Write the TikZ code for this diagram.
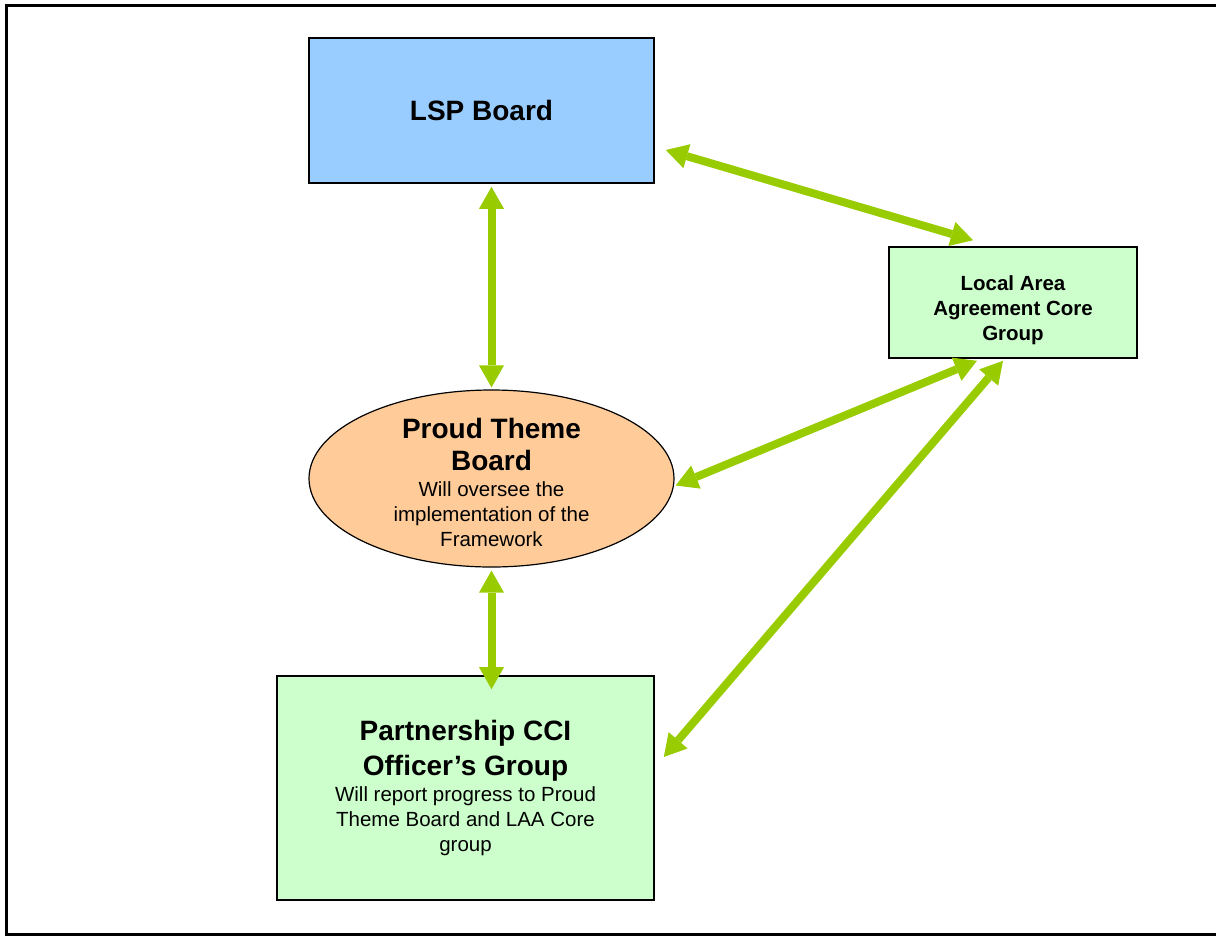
\documentclass[tikz,border=0pt]{standalone}
\usepackage{fontspec}
\setmainfont{Liberation Sans}
\usetikzlibrary{arrows.meta,shapes.geometric}
\definecolor{boardblue}{HTML}{99CCFF}
\definecolor{groupgreen}{HTML}{CCFFCC}
\definecolor{themepeach}{HTML}{FFCC99}
\definecolor{linkgreen}{HTML}{99CC00}
\newcommand{\headtxt}[1]{{\fontsize{28}{32}\selectfont\bfseries #1}}
\newcommand{\lowerby}[1]{\rule{0pt}{#1}}
\tikzset{
  box/.style={draw=black,line width=1.6pt,rectangle,inner sep=0pt,align=center,
    font=\fontsize{20.5}{25}\selectfont},
  link/.style={color=linkgreen,line width=8pt,
    {Triangle[width=25pt,length=22pt,line width=0pt]}-{Triangle[width=25pt,length=22pt,line width=0pt]}}
}
\begin{document}
\begin{tikzpicture}[x=1pt,y=-1pt]
  \useasboundingbox (0,0) rectangle (1216,938);
  % frame
  \draw[line width=3pt] (1216,5) -- (6,5) -- (6,934) -- (1216,934);
  % nodes
  \node[box,fill=boardblue,minimum width=345pt,minimum height=145pt] (lsp) at (481.5,110.5) {\headtxt{LSP Board}};
  \node[box,fill=groupgreen,minimum width=248pt,minimum height=111pt] (laa) at (1013,302.5)
    {\lowerby{30pt}\bfseries Local Area\\\bfseries Agreement Core\\\bfseries Group};
  \node[box,ellipse,fill=themepeach,line width=1.2pt,inner ysep=-30pt,minimum width=365pt,minimum height=177pt] (ptb) at (491.5,478.5)
    {\headtxt{\lowerby{29pt}Proud Theme}\\[7pt]\headtxt{Board}\\[1pt]Will oversee the\\implementation of the\\Framework};
  \node[box,fill=groupgreen,minimum width=377pt,minimum height=224pt] (pcg) at (465.5,788)
    {\headtxt{Partnership CCI}\\[7pt]\headtxt{Officer’s Group}\\[1pt]Will report progress to Proud\\Theme Board and LAA Core\\group};
  % links
  \path[link]
    (lsp.south -| ptb.north) edge[shorten <=3pt,shorten >=2pt] (ptb.north)
    ([xshift=11pt,yshift=-39.5pt]lsp.east) edge ([xshift=-40pt,yshift=6pt]laa.north)
    ([xshift=1pt,yshift=-7pt]ptb.east) edge ([xshift=-36pt,yshift=-2pt]laa.south)
    ([xshift=9pt,yshift=31pt]pcg.east) edge ([xshift=-10pt,yshift=-2pt]laa.south)
    (ptb.south) edge[shorten <=3pt,shorten >=-14pt] (pcg.north -| ptb.south);
\end{tikzpicture}
\end{document}
